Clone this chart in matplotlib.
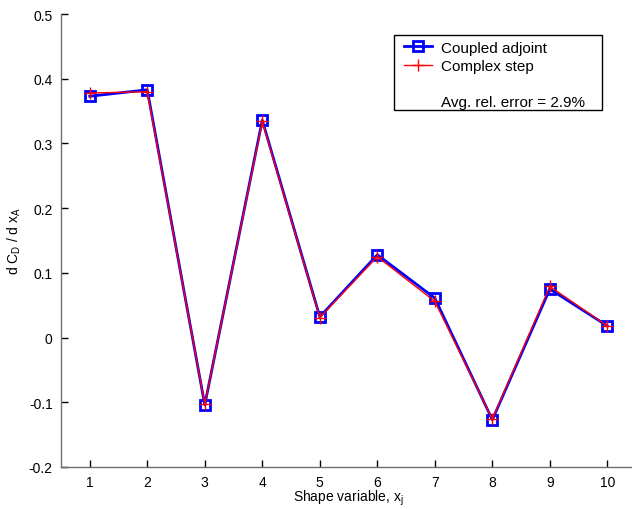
import matplotlib
matplotlib.use('Agg')
import matplotlib.pyplot as plt
from matplotlib.lines import Line2D
from matplotlib.patches import Rectangle

plt.rcParams['font.family'] = ['Liberation Sans', 'DejaVu Sans']
plt.rcParams['mathtext.fontset'] = 'custom'
plt.rcParams['mathtext.rm'] = 'Liberation Sans'
plt.rcParams['mathtext.it'] = 'Liberation Sans'

# Shape variables and the two sensitivity estimates
shape_vars = [1, 2, 3, 4, 5, 6, 7, 8, 9, 10]
coupled_adjoint = [0.373, 0.383, -0.104, 0.336, 0.032, 0.128, 0.061, -0.127, 0.075, 0.018]
complex_step = [0.378, 0.380, -0.103, 0.334, 0.031, 0.125, 0.056, -0.126, 0.079, 0.018]
y_ticks = [-0.2, -0.1, 0, 0.1, 0.2, 0.3, 0.4, 0.5]
avg_err_text = 'Avg. rel. error = 2.9%'

fig = plt.figure(figsize=(6.32, 5.10), dpi=100)
# axes run a little past the right edge, as in the original crop
ax = fig.add_axes([0.0965, 0.0824, 0.91, 0.888])

ax.plot(shape_vars, coupled_adjoint, color='blue', linewidth=2, marker='s',
        markersize=7.5, markerfacecolor='none', markeredgewidth=2, label='Coupled adjoint')
ax.plot(shape_vars, complex_step, color='red', linewidth=1, marker='+',
        markersize=9, markeredgewidth=1, label='Complex step')

ax.set_xlim(0.5, 10.5)
ax.set_ylim(-0.2, 0.5)
ax.set_xticks(shape_vars)
ax.set_yticks(y_ticks)
ax.set_yticklabels(['%g' % t for t in y_ticks])

# MATLAB-ish axes: inward ticks, no top/right
for side in ['top', 'right']:
    ax.spines[side].set_visible(False)
for side in ['left', 'bottom']:
    ax.spines[side].set_color('#707070')
    ax.spines[side].set_linewidth(1)
ax.tick_params(direction='in', length=5, width=1, color='black', labelsize=10, pad=6)

ax.set_xlabel(r'Shape variable, x$_\mathrm{j}$', fontsize=10, labelpad=-1)
ax.set_ylabel(r'd C$_\mathrm{D}$ / d x$_\mathrm{A}$', fontsize=10, labelpad=4)

# Legend with the error note as an extra row; box drawn by hand (MATLAB pads it wide)
handles, labels = ax.get_legend_handles_labels()
blank = Line2D([], [], linestyle='none')
handles += [blank, blank]
labels += [' ', avg_err_text]
leg = ax.legend(handles, labels, loc='upper left', bbox_to_anchor=(0.5965, 0.941),
                borderaxespad=0, borderpad=0, fontsize=11, frameon=False,
                handlelength=1.8, labelspacing=0.27, handletextpad=0.65)
ax.add_patch(Rectangle((0.579, 0.788), 0.362, 0.1656, transform=ax.transAxes,
                       facecolor='white', edgecolor='black', linewidth=1, zorder=4))
leg.set_zorder(5)

fig.savefig('out.png', dpi=100)
